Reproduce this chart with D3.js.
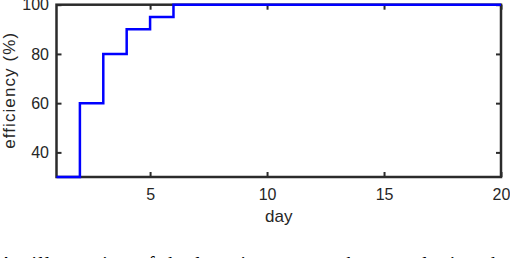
<!DOCTYPE html>
<html>
<head>
<meta charset="utf-8">
<script src="https://cdn.jsdelivr.net/npm/d3@7"></script>
<style>
  body { margin: 0; background: #fff; }
  svg { display: block; }
  .tick text { font-family: "Liberation Sans", Arial, sans-serif; font-size: 16px; fill: #262626; }
  .axis-label { font-family: "Liberation Sans", Arial, sans-serif; font-size: 17px; fill: #262626; }
  .caption { font-family: "Liberation Serif", "DejaVu Serif", serif; font-size: 20px; fill: #000; }
</style>
</head>
<body>
<svg id="chart" width="510" height="258"></svg>
<script>
const width = 510;
const height = 258;

// days and efficiency values (step line)
const days = [1, 2, 3, 4, 5, 6, 7, 8, 9, 10, 11, 12, 13, 14, 15, 16, 17, 18, 19, 20];
const efficiency = [30, 60, 80, 90, 95, 100, 100, 100, 100, 100, 100, 100, 100, 100, 100, 100, 100, 100, 100, 100];
const xTicks = [5, 10, 15, 20];
const yTicks = [40, 60, 80, 100];

const margin = { left: 56.5, right: 9, top: 4.7, bottom: 81 };

const svg = d3.select("#chart");

const x = d3.scaleLinear()
    .domain([1, 20])
    .range([margin.left, width - margin.right]);

const y = d3.scaleLinear()
    .domain([30, 100])
    .range([height - margin.bottom, margin.top]);

const frameColor = "#2b2b2b";
const tickLen = 5;

// axes (ticks inward, box on)
const gx = svg.append("g")
    .attr("transform", `translate(0,${y(30)})`)
    .call(d3.axisBottom(x).tickValues(xTicks).tickSizeInner(-tickLen).tickSizeOuter(0).tickPadding(12));

const gxTop = svg.append("g")
    .attr("transform", `translate(0,${y(100)})`)
    .call(d3.axisTop(x).tickValues(xTicks).tickSizeInner(-tickLen).tickSizeOuter(0).tickFormat(""));

const gy = svg.append("g")
    .attr("transform", `translate(${x(1)},0)`)
    .call(d3.axisLeft(y).tickValues(yTicks).tickSizeInner(-tickLen).tickSizeOuter(0).tickPadding(7.5));

const gyRight = svg.append("g")
    .attr("transform", `translate(${x(20)},0)`)
    .call(d3.axisRight(y).tickValues(yTicks).tickSizeInner(-tickLen).tickSizeOuter(0).tickFormat(""));

[gx, gxTop, gy, gyRight].forEach(g => {
    g.select(".domain").remove();
    g.selectAll(".tick line").attr("stroke", frameColor).attr("stroke-width", 2);
});

// frame box
svg.append("rect")
    .attr("x", x(1))
    .attr("y", y(100))
    .attr("width", x(20) - x(1))
    .attr("height", y(30) - y(100))
    .attr("fill", "none")
    .attr("stroke", frameColor)
    .attr("stroke-width", 2.5);

// step line, drawn over the frame
const line = d3.line()
    .x((d, i) => x(days[i]))
    .y(d => y(d))
    .curve(d3.curveStepAfter);

svg.append("path")
    .datum(efficiency)
    .attr("fill", "none")
    .attr("stroke", "#0000ff")
    .attr("stroke-width", 2.5)
    .attr("d", line);

// axis labels
svg.append("text")
    .attr("class", "axis-label")
    .attr("x", (x(1) + x(20)) / 2)
    .attr("y", 222)
    .attr("text-anchor", "middle")
    .text("day");

svg.append("text")
    .attr("class", "axis-label")
    .attr("transform", `translate(15,${(y(30) + y(100)) / 2 + 58}) rotate(-90)`)
    .attr("textLength", 116)
    .attr("lengthAdjust", "spacing")
    .text("efficiency (%)");

// cut-off caption at the bottom
svg.append("text")
    .attr("class", "caption")
    .attr("x", -1)
    .attr("y", 271)
    .attr("textLength", 512)
    .attr("lengthAdjust", "spacing")
    .text("An illustration of the learning curve where analyzing the");
</script>
</body>
</html>
